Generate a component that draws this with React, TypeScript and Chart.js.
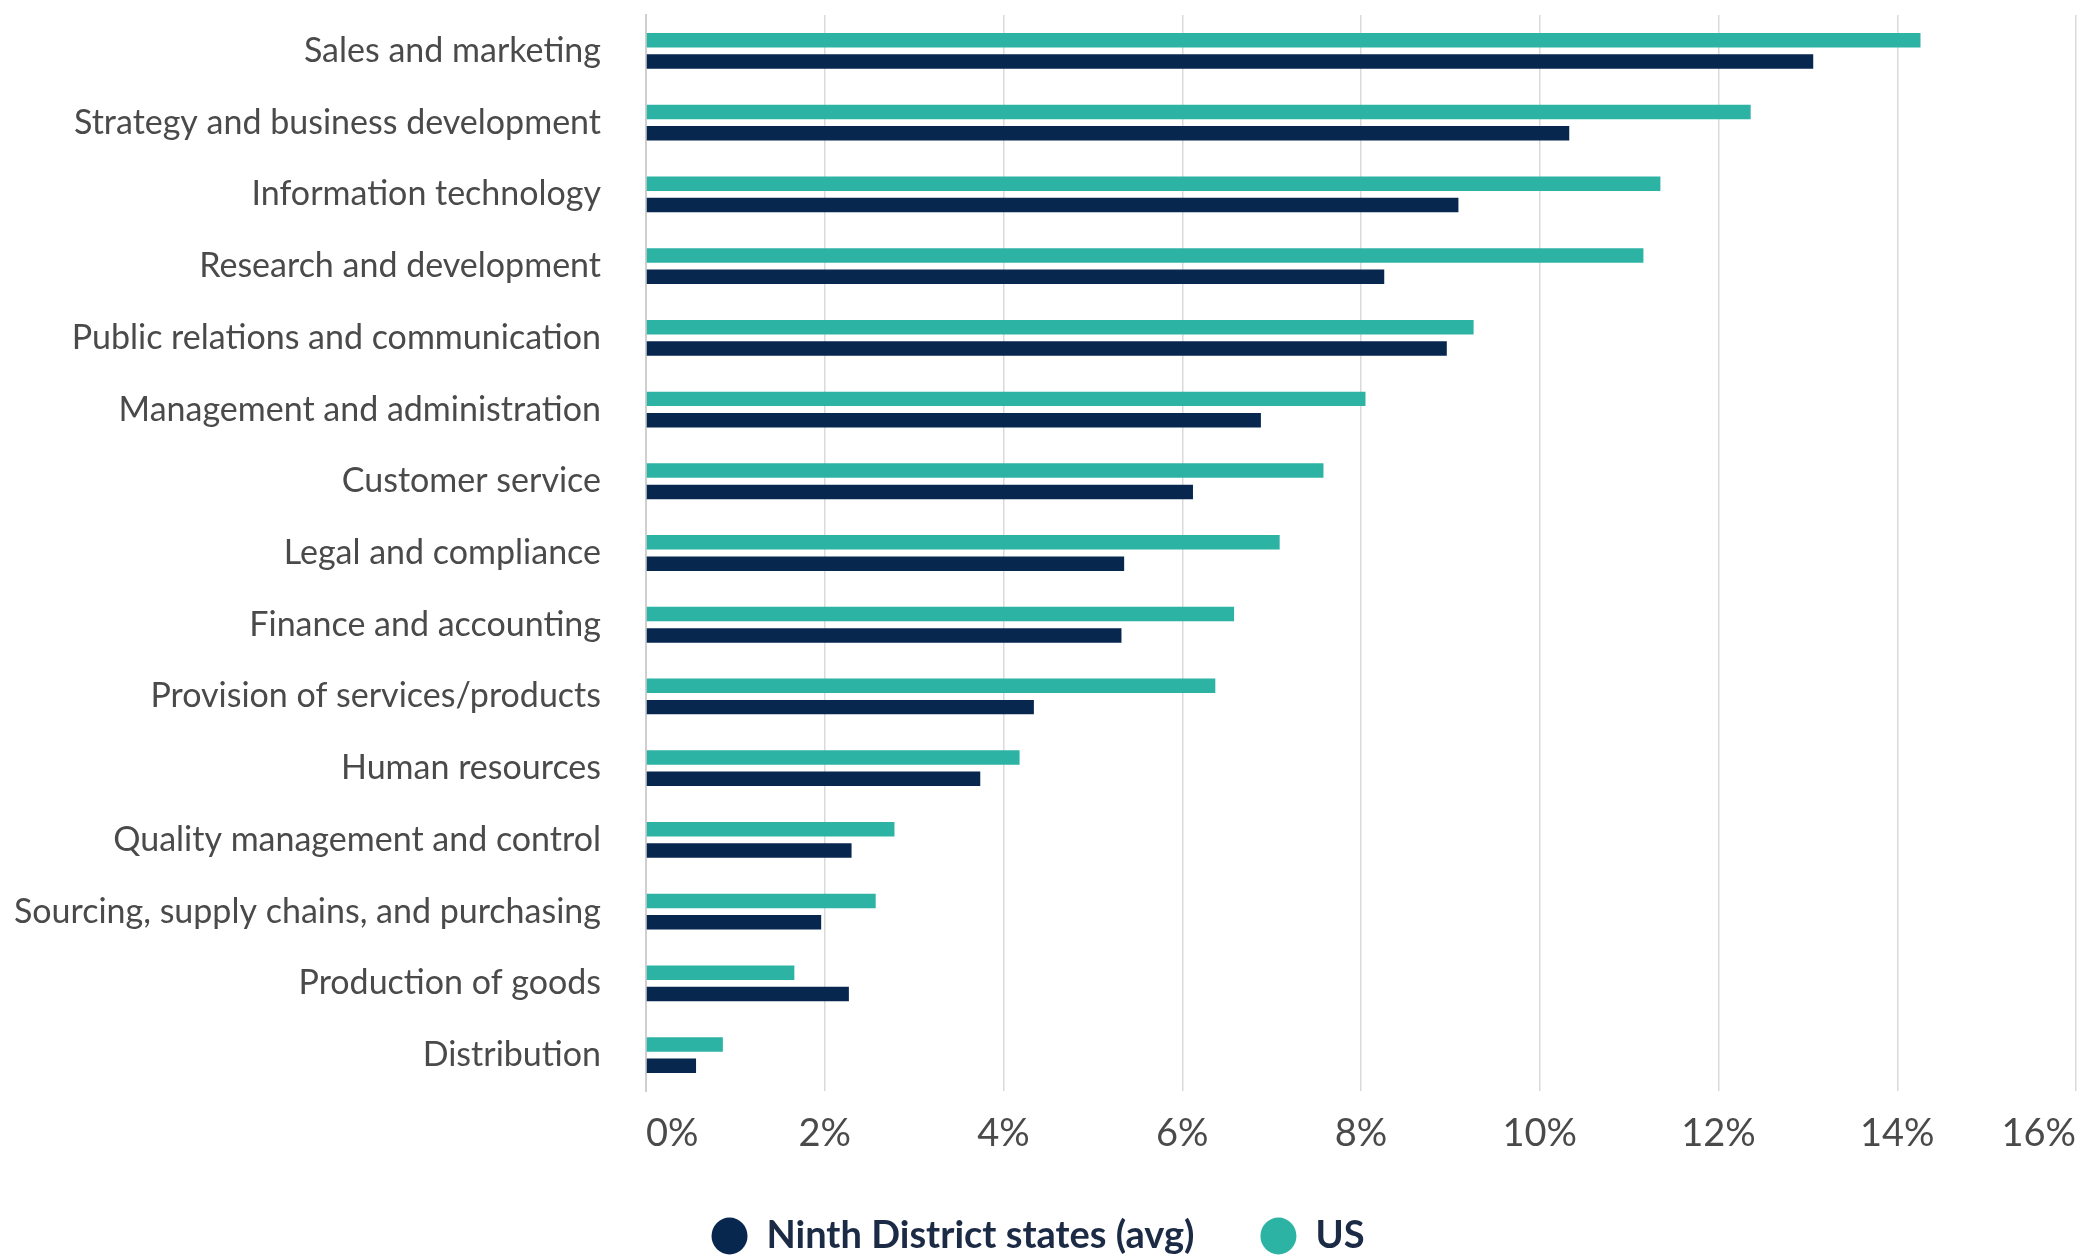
import { useEffect, useRef } from 'react';
import { Chart, registerables } from 'chart.js';

Chart.register(...registerables);

const categories = [
  'Sales and marketing',
  'Strategy and business development',
  'Information technology',
  'Research and development',
  'Public relations and communication',
  'Management and administration',
  'Customer service',
  'Legal and compliance',
  'Finance and accounting',
  'Provision of services/products',
  'Human resources',
  'Quality management and control',
  'Sourcing, supply chains, and purchasing',
  'Production of goods',
  'Distribution',
];

const usValues = [14.26, 12.36, 11.35, 11.16, 9.26, 8.05, 7.58, 7.09, 6.58, 6.37, 4.18, 2.78, 2.57, 1.66, 0.86];
const ninthValues = [13.06, 10.33, 9.09, 8.26, 8.96, 6.88, 6.12, 5.35, 5.32, 4.34, 3.74, 2.30, 1.96, 2.27, 0.56];

const xTickValues = [0, 2, 4, 6, 8, 10, 12, 14, 16];

const seriesLabels = ['US', 'Ninth District states (avg)'];

const TEAL = '#2DB3A4';
const NAVY = '#07274F';
const TEXT = '#4a4a4a';
const GRID = '#dadada';
const FONT = 'Lato, "Noto Sans", sans-serif';

export default function App() {
  const ref = useRef<HTMLCanvasElement>(null);

  useEffect(() => {
    const canvas = ref.current;
    if (!canvas) return;
    const chart = new Chart(canvas, {
      type: 'bar',
      data: {
        labels: categories,
        datasets: [
          {
            label: seriesLabels[0],
            data: usValues,
            backgroundColor: TEAL,
            categoryPercentage: 0.594,
            barPercentage: 0.68,
          },
          {
            label: seriesLabels[1],
            data: ninthValues,
            backgroundColor: NAVY,
            categoryPercentage: 0.594,
            barPercentage: 0.68,
          },
        ],
      },
      options: {
        indexAxis: 'y',
        responsive: false,
        animation: false,
        layout: { padding: { top: 15, left: 0, right: 8, bottom: 0 } },
        scales: {
          x: {
            type: 'linear',
            min: 0,
            max: 16,
            afterBuildTicks: (scale: any) => {
              scale.ticks = xTickValues.map((v) => ({ value: v }));
            },
            afterFit: (scale: any) => {
              scale.height = 60;
              scale.paddingRight = 0;
              scale.paddingLeft = 0;
            },
            ticks: {
              callback: (v: any) => `${v}%`,
              align: 'inner',
              padding: 0,
              color: TEXT,
              font: { family: FONT, size: 38 },
            },
            grid: { color: GRID, lineWidth: 1.5, drawTicks: true, tickLength: 20, tickColor: 'rgba(0,0,0,0)' },
            border: { display: false },
          },
          y: {
            afterFit: (scale: any) => {
              scale.width = 646;
              scale.paddingTop = 0;
              scale.paddingBottom = 0;
            },
            ticks: {
              padding: 0,
              color: TEXT,
              font: { family: FONT, size: 34, lineHeight: 0.8 },
            },
            grid: { display: false, drawTicks: true, tickLength: 45, tickColor: 'rgba(0,0,0,0)' },
            border: { display: true, color: '#cfcfcf', width: 2 },
          },
        },
        plugins: {
          legend: {
            position: 'bottom',
            reverse: true,
            labels: {
              usePointStyle: true,
              pointStyle: 'circle',
              pointStyleWidth: 36,
              boxHeight: 26,
              padding: 66,
              color: '#1c2b45',
              font: { family: FONT, size: 38, weight: 'bold' },
            },
          },
          tooltip: { enabled: false },
        },
      },
    } as any);
    return () => chart.destroy();
  }, []);

  return (
    <div style={{ position: 'fixed', left: 0, top: 0, width: 2084, height: 1256, overflow: 'hidden', background: '#ffffff' }}>
      <canvas ref={ref} width={2084} height={1265} style={{ display: 'block', width: 2084, height: 1265 }} />
    </div>
  );
}
